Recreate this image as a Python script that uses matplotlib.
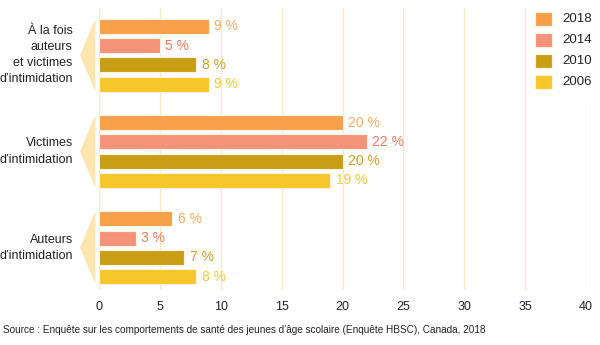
import matplotlib
matplotlib.use("Agg")
import matplotlib.pyplot as plt
from matplotlib.patches import Polygon, Rectangle

plt.rcParams['font.family'] = ['Liberation Sans', 'DejaVu Sans']

categories = ["À la fois\nauteurs\net victimes\nd’intimidation",
              "Victimes\nd’intimidation",
              "Auteurs\nd’intimidation"]
years = ["2018", "2014", "2010", "2006"]
values = {
    "2018": [9, 20, 6],
    "2014": [5, 22, 3],
    "2010": [8, 20, 7],
    "2006": [9, 19, 8],
}
xticks = [0, 5, 10, 15, 20, 25, 30, 35, 40]
source = "Source : Enquête sur les comportements de santé des jeunes d’âge scolaire (Enquête HBSC), Canada, 2018"

bar_colors = {"2018": "#f7a04a", "2014": "#f5927a", "2010": "#c89e14", "2006": "#f6c72a"}
text_colors = {"2018": "#f8ab62", "2014": "#f07a62", "2010": "#c9a020", "2006": "#f6c933"}
grid_color = "#fbe8bf"
chev_color = "#fce5ae"

fig = plt.figure(figsize=(6, 3.45), dpi=100)
ax = fig.add_axes([99/600, 1-290/345, (586-99)/600, (290-8)/345])

group_pitch = 5
h = 0.78
for gi, cat in enumerate(categories):
    for j, yr in enumerate(years):
        y = gi*group_pitch + j
        v = values[yr][gi]
        ax.barh(y, v, height=h, color=bar_colors[yr], edgecolor="#fff3e0", linewidth=0.8, zorder=3)
        ax.text(v + 0.45, y, f"{v} %", va="center", ha="left", fontsize=10,
                color=text_colors[yr], zorder=4)
    top = gi*group_pitch - h/2
    bot = gi*group_pitch + 3 + h/2
    mid = (top + bot)/2
    poly = Polygon([(-1.56, mid), (-0.3, top), (-0.3, bot)], closed=True,
                   facecolor=chev_color, edgecolor="none", clip_on=False, zorder=2)
    ax.add_patch(poly)
    ax.text(-2.15, mid, cat, ha="right", va="center", fontsize=9, color="#222222",
            linespacing=1.45)

ax.set_xlim(0, 40)
ax.set_ylim(2*group_pitch + 3 + 0.7, -0.96)
ax.set_xticks(xticks)
ax.set_xticklabels([str(t) for t in xticks], fontsize=9, color="#222222")
ax.set_yticks([])
ax.tick_params(axis='x', length=0, pad=8)
for s in ax.spines.values():
    s.set_visible(False)
ax.grid(axis='x', color=grid_color, linewidth=1, zorder=0)
ax.set_axisbelow(True)

# legend area
fig.add_artist(Rectangle((530/600, 1-105/345), 70/600, 105/345, transform=fig.transFigure,
                         facecolor="white", edgecolor="none", zorder=5))
for i, yr in enumerate(years):
    ytop = 12 + i*21
    fig.add_artist(Rectangle((535/600, 1-(ytop+14)/345), 17/600, 14/345,
                             transform=fig.transFigure, facecolor=bar_colors[yr],
                             edgecolor="#fff3e0", linewidth=0.8, zorder=6))
    fig.text(562/600, 1-(ytop+7)/345, yr, ha="left", va="center", fontsize=9.5,
             color="#222222", zorder=6)

fig.text(3/600, 1-330/345, source, ha="left", va="center", fontsize=7.2, color="#222222")

fig.savefig("out.png", dpi=100)
